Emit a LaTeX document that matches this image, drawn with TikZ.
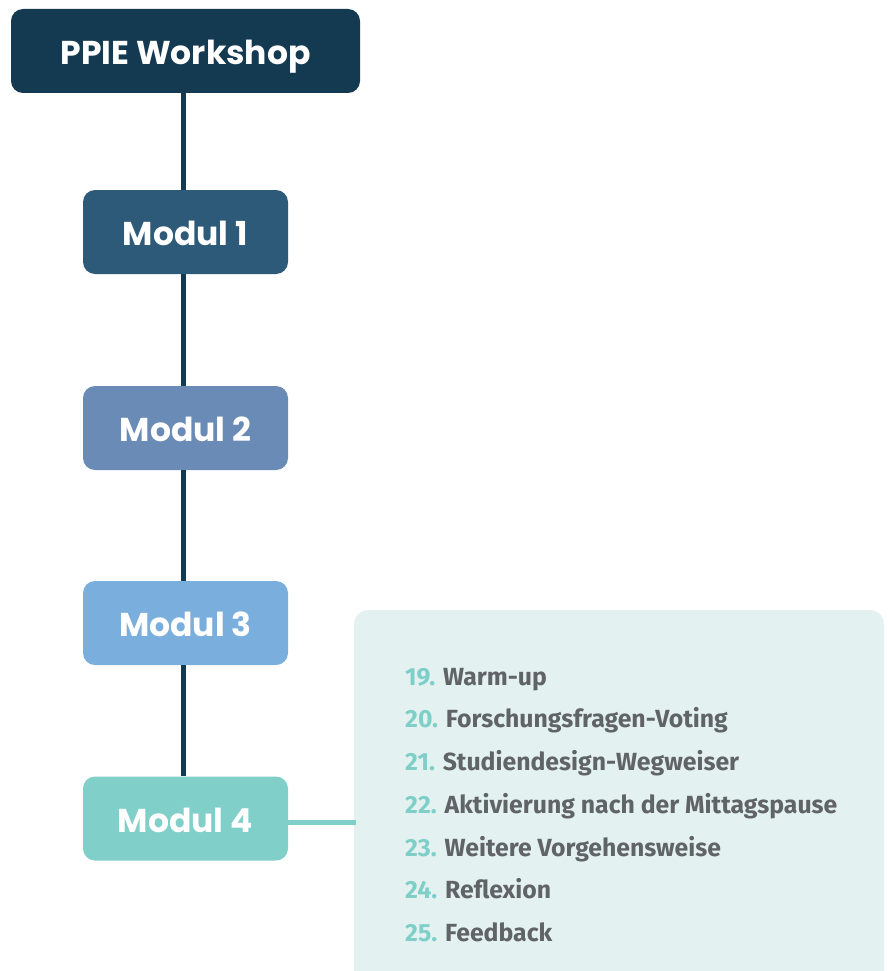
\documentclass[tikz,border=0pt]{standalone}
\usepackage{fontspec}
\setmainfont{Fira Sans}
\newfontfamily\boxfont{Poppins}
\newfontfamily\listfont{Fira Sans}
\definecolor{cTop}{HTML}{143A52}
\definecolor{cM1}{HTML}{2C5A78}
\definecolor{cM2}{HTML}{6A8BB5}
\definecolor{cM3}{HTML}{7AAEDD}
\definecolor{cM4}{HTML}{80CFC9}
\definecolor{cPanel}{HTML}{E3F1F0}
\definecolor{cNum}{HTML}{7FCFC9}
\definecolor{cTxt}{HTML}{606367}
\begin{document}
\begin{tikzpicture}[x=1pt,y=1pt,
  box/.style={rounded corners=12pt, minimum height=84pt, inner sep=0pt, text=white,
    text height=27pt, text depth=0pt,
    font=\boxfont\bfseries\fontsize{33}{36}\selectfont},
  trunk/.style={draw=cTop, line width=5pt},
  item/.style={anchor=base west, inner sep=0pt, text=cTxt,
    font=\listfont\bfseries\fontsize{24.8}{28}\selectfont}]
\useasboundingbox (0,0) rectangle (888,-971);
\begin{scope}
\clip (0,0) rectangle (888,-971);
\fill[cPanel, rounded corners=14pt] (354,-610) rectangle (884,-1000);
\end{scope}
\node[box, fill=cTop, minimum width=349pt] (ppie) at (185.5,-51) {PPIE Workshop};
\node[box, fill=cM1, minimum width=205pt] (m1) at (185.5,-232) {Modul 1};
\node[box, fill=cM2, minimum width=205pt] (m2) at (185.5,-428) {Modul 2};
\node[box, fill=cM3, minimum width=205pt] (m3) at (185.5,-623) {Modul 3};
\node[box, fill=cM4, minimum width=205pt] (m4) at (185.5,-818.5) {Modul 4};
\coordinate (pl) at (356,-822);
\draw[trunk] (ppie.south -| 183,0) -- (m1.north -| 183,0);
\draw[trunk] (m1.south -| 183,0) -- (m2.north -| 183,0);
\draw[trunk] (m2.south -| 183,0) -- (m3.north -| 183,0);
\draw[trunk] (m3.south -| 183,0) -- (m4.north -| 183,0);
\draw[draw=cM4, line width=5pt] (m4.east |- pl) -- (pl);
\node[item] (i19) at (405,-685) {\textcolor{cNum}{19.} Warm-up};
\node[item] (i20) at (405,-727.5) {\textcolor{cNum}{20.} Forschungsfragen-Voting};
\node[item] (i21) at (405,-770) {\textcolor{cNum}{21.} Studiendesign-Wegweiser};
\node[item] (i22) at (405,-813) {\textcolor{cNum}{22.} Aktivierung nach der Mittagspause};
\node[item] (i23) at (405,-856) {\textcolor{cNum}{23.} Weitere Vorgehensweise};
\node[item] (i24) at (405,-898) {\textcolor{cNum}{24.} Reflexion};
\node[item] (i25) at (405,-941) {\textcolor{cNum}{25.} Feedback};
\end{tikzpicture}
\end{document}
